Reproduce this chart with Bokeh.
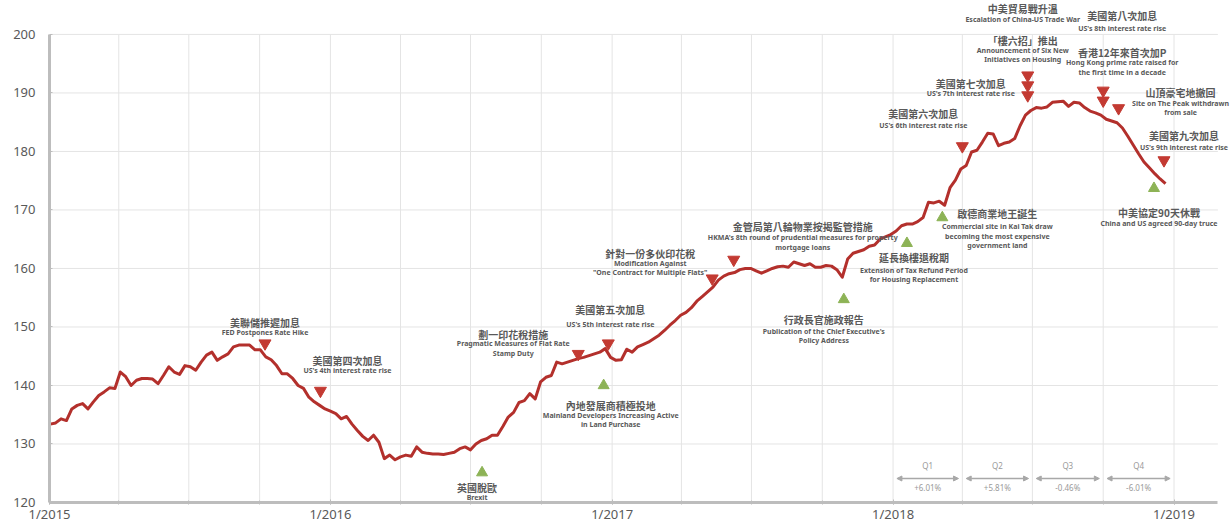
import pandas as pd
from bokeh.plotting import figure
from bokeh.models import ColumnDataSource, FixedTicker, DatetimeTickFormatter, Range1d, Arrow, NormalHead
from bokeh.core.properties import value
from bokeh.embed import file_html
from bokeh.resources import INLINE

# ---------------- data ----------------
week_start = "2015-01-02"
ccl = [
    133.4, 133.6, 134.3, 134.0, 136.0, 136.6, 136.9, 136.0, 137.2, 138.3,
    138.9, 139.6, 139.5, 142.3, 141.5, 140.0, 140.9, 141.2, 141.2, 141.1,
    140.3, 141.7, 143.2, 142.3, 141.9, 143.4, 143.2, 142.6, 144.0, 145.2,
    145.7, 144.3, 144.9, 145.4, 146.6, 146.9, 146.9, 146.9, 146.1, 146.1,
    144.9, 144.4, 143.4, 142.0, 142.0, 141.2, 140.0, 139.5, 138.0, 137.2,
    136.6, 136.0, 135.6, 135.2, 134.3, 134.7, 133.4, 132.3, 131.3, 130.6,
    131.5, 130.3, 127.5, 128.1, 127.3, 127.8, 128.1, 127.9, 129.5, 128.6,
    128.4, 128.3, 128.3, 128.2, 128.4, 128.6, 129.2, 129.5, 129.0, 130.0,
    130.6, 130.9, 131.5, 131.5, 133.0, 134.6, 135.4, 137.1, 137.4, 138.6,
    137.7, 140.6, 141.4, 141.7, 144.0, 143.7, 144.0, 144.3, 144.6, 144.8,
    145.1, 145.4, 145.7, 146.3, 144.8, 144.3, 144.4, 146.2, 145.7, 146.6,
    147.0, 147.4, 148.0, 148.6, 149.4, 150.3, 151.1, 152.0, 152.5, 153.3,
    154.4, 155.2, 156.0, 156.8, 158.0, 158.7, 159.1, 159.3, 159.8, 160.0,
    160.0, 159.6, 159.2, 159.6, 160.0, 160.3, 160.4, 160.2, 161.1, 160.8,
    160.5, 160.8, 160.2, 160.2, 160.5, 160.4, 159.8, 158.5, 161.6, 162.6,
    162.9, 163.2, 163.8, 164.0, 165.0, 165.4, 165.8, 166.4, 167.3, 167.6,
    167.6, 168.0, 168.7, 171.3, 171.2, 171.5, 170.8, 173.8, 175.1, 177.0,
    177.6, 179.9, 180.2, 181.6, 183.1, 183.0, 181.0, 181.4, 181.6, 182.2,
    184.4, 186.2, 187.0, 187.5, 187.4, 187.6, 188.4, 188.5, 188.6, 187.7,
    188.4, 188.3, 187.5, 186.9, 186.6, 186.2, 185.5, 185.2, 184.9, 184.0,
    182.6, 181.1, 179.6, 178.2, 177.2, 176.2, 175.3, 174.5,
]

ev_date = ["2015-10-08", "2015-12-19", "2016-07-16", "2016-11-18", "2016-12-27",
           "2016-12-21", "2017-05-11", "2017-06-08", "2017-10-29", "2018-01-19",
           "2018-03-06", "2018-04-01", "2018-06-25", "2018-06-25", "2018-06-25",
           "2018-10-01", "2018-10-01", "2018-10-21", "2018-12-19", "2018-12-06"]
ev_level = [147.2, 139.1, 125.1, 145.4, 147.2,
            140.0, 158.3, 161.5, 154.7, 164.3,
            168.7, 180.9, 189.6, 191.3, 193.0,
            190.4, 188.7, 187.4, 178.5, 173.7]
ev_kind = ["neg", "neg", "pos", "neg", "neg",
           "pos", "neg", "neg", "pos", "pos",
           "pos", "neg", "neg", "neg", "neg",
           "neg", "neg", "neg", "neg", "pos"]
ev_cn = ["美聯儲推遲加息", "美國第四次加息", "英國脫歐", "劃一印花稅措施", "美國第五次加息",
         "內地發展商積極投地", "針對一份多伙印花稅", "金管局第八輪物業按揭監管措施", "行政長官施政報告", "延長換樓退稅期",
         "啟德商業地王誕生", "美國第六次加息", "美國第七次加息", "「樓六招」推出", "中美貿易戰升溫",
         "美國第八次加息", "香港12年來首次加P", "山頂豪宅地撤回", "美國第九次加息", "中美協定90天休戰"]
ev_en = [["FED Postpones Rate Hike"],
         ["US's 4th interest rate rise"],
         ["Brexit"],
         ["Pragmatic Measures of Flat Rate", "Stamp Duty"],
         ["US's 5th interest rate rise"],
         ["Mainland Developers Increasing Active", "in Land Purchase"],
         ["Modification Against", "\"One Contract for Multiple Flats\""],
         ["HKMA's 8th round of prudential measures for property", "mortgage loans"],
         ["Publication of the Chief Executive's", "Policy Address"],
         ["Extension of Tax Refund Period", "for Housing Replacement"],
         ["Commercial site in Kai Tak draw", "becoming the most expensive", "government land"],
         ["US's 6th interest rate rise"],
         ["US's 7th interest rate rise"],
         ["Announcement of Six New", "Initiatives on Housing"],
         ["Escalation of China-US Trade War"],
         ["US's 8th interest rate rise"],
         ["Hong Kong prime rate raised for", "the first time in a decade"],
         ["Site on The Peak withdrawn", "from sale"],
         ["US's 9th interest rate rise"],
         ["China and US agreed 90-day truce"]]

x_tick_labels = ["1/2015", "1/2016", "1/2017", "1/2018", "1/2019"]
y_ticks = [120, 130, 140, 150, 160, 170, 180, 190, 200]

quarters = ["Q1", "Q2", "Q3", "Q4"]
quarter_change = ["+6.01%", "+5.81%", "-0.46%", "-6.01%"]

# ---------------- layout (pixel offsets of the labels) ----------------
lab_dx = [0, 27, -5, -65, 2, 7, -62, 69, -20, 7, 55, -39, -57, -5, -5, 19, 19, 62, 20, 5]
lab_cn_dy = [-21, -30, 15, -19, -34, 20, -25, -33, 20, 14, -4, -33, -12, -45, -67, -75, -48, -16, -25, 24]
lab_en_dy = [-11, -20, 25, -10, -19, 30, -15, -22, 32, 27, 9, -21, -2, -35, -56, -62, -38, -5, -13, 35]
en_gap = 9.5

GRAY = "#595959"
RED = "#b3302c"
TRI_RED = "#c33a32"
TRI_GREEN = "#8db356"


def ms(d):
    return pd.Timestamp(d).value // 10**6


dates = pd.date_range(week_start, periods=len(ccl), freq="7D")

x_start = pd.Timestamp("2015-01-01")
x_axis_end = pd.Timestamp("2019-02-27")
x_frame_end = pd.Timestamp("2019-03-18")

p = figure(width=1232, height=525, x_axis_type="datetime",
           x_range=Range1d(ms(x_start), ms(x_frame_end)),
           y_range=Range1d(120, 205.8),
           output_backend="svg", toolbar_location=None,
           min_border_left=49, min_border_right=0, min_border_top=0, min_border_bottom=23)
p.outline_line_color = None
p.background_fill_color = "white"
p.border_fill_color = "white"
p.xgrid.visible = False
p.ygrid.visible = False

# gridlines drawn manually so they stop at the axis bounds
year_ticks = [ms(f"{y}-01-01") for y in range(2015, 2020)]
quarter_ticks = [ms(f"{y}-{m:02d}-01") for y in range(2015, 2019) for m in (1, 4, 7, 10)] + [ms("2019-01-01")]
vq = quarter_ticks[1:]
p.segment(x0=vq, y0=[y_ticks[0]] * len(vq), x1=vq, y1=[y_ticks[-1]] * len(vq),
          line_color="#e4e4e4", line_width=1)
hy = y_ticks[1:]
p.segment(x0=[ms(x_start)] * len(hy), y0=hy, x1=[ms(x_axis_end)] * len(hy), y1=hy,
          line_color="#e4e4e4", line_width=1)

# axes
p.yaxis.bounds = (y_ticks[0], y_ticks[-1])
p.yaxis.ticker = FixedTicker(ticks=y_ticks)
p.yaxis.axis_line_color = "#bdbdbd"
p.yaxis.axis_line_width = 3
p.yaxis.major_tick_in = 3
p.yaxis.major_tick_out = 0
p.yaxis.major_tick_line_color = "#bdbdbd"
p.yaxis.minor_tick_line_color = None
p.yaxis.major_label_standoff = 14
p.yaxis.major_label_text_font = "Noto Sans"
p.yaxis.major_label_text_font_size = "13px"
p.yaxis.major_label_text_color = GRAY

p.xaxis.bounds = (ms(x_start), ms(x_axis_end))
p.xaxis.ticker = FixedTicker(ticks=year_ticks, minor_ticks=quarter_ticks)
fmt = "1/%Y"
p.xaxis.formatter = DatetimeTickFormatter(years=fmt, months=fmt, days=fmt, hours=fmt,
                                          minutes=fmt, seconds=fmt, milliseconds=fmt,
                                          minsec=fmt, hourmin=fmt)
p.xaxis.major_label_overrides = {t: lab for t, lab in zip(year_ticks, x_tick_labels)}
p.xaxis.axis_line_color = "#bdbdbd"
p.xaxis.axis_line_width = 3
p.xaxis.major_tick_in = 3
p.xaxis.major_tick_out = 2
p.xaxis.minor_tick_in = 2
p.xaxis.minor_tick_out = 2
p.xaxis.major_tick_line_color = "#bdbdbd"
p.xaxis.minor_tick_line_color = "#bdbdbd"
p.xaxis.major_label_standoff = 0
p.xaxis.major_label_text_font = "Noto Sans"
p.xaxis.major_label_text_font_size = "13px"
p.xaxis.major_label_text_color = GRAY

# the index line
p.line(dates, ccl, line_color=RED, line_width=3, line_join="round")

# event markers
neg_x = [pd.Timestamp(d) for d, k in zip(ev_date, ev_kind) if k == "neg"]
neg_y = [v for v, k in zip(ev_level, ev_kind) if k == "neg"]
pos_x = [pd.Timestamp(d) for d, k in zip(ev_date, ev_kind) if k == "pos"]
pos_y = [v for v, k in zip(ev_level, ev_kind) if k == "pos"]
p.scatter(neg_x, neg_y, marker="inverted_triangle", size=12, fill_color=TRI_RED, line_color=TRI_RED)
p.scatter(pos_x, pos_y, marker="triangle", size=11, fill_color=TRI_GREEN, line_color=TRI_GREEN)

# event labels
cn_src = ColumnDataSource(dict(x=[pd.Timestamp(d) for d in ev_date], y=ev_level, text=ev_cn,
                               xo=lab_dx, yo=lab_cn_dy))
p.text(x="x", y="y", text="text", x_offset="xo", y_offset="yo", source=cn_src,
       text_font=value("Noto Sans CJK TC"), text_font_size="10px", text_font_style="bold",
       text_color=GRAY, text_align="center", text_baseline="middle")

ex, ey, et, exo, eyo = [], [], [], [], []
for d, lv, lines, dx, dy in zip(ev_date, ev_level, ev_en, lab_dx, lab_en_dy):
    for j, line in enumerate(lines):
        ex.append(pd.Timestamp(d)); ey.append(lv); et.append(line)
        exo.append(dx); eyo.append(dy + j * en_gap)
en_src = ColumnDataSource(dict(x=ex, y=ey, text=et, xo=exo, yo=eyo))
p.text(x="x", y="y", text="text", x_offset="xo", y_offset="yo", source=en_src,
       text_font=value("Noto Sans"), text_font_size="7px", text_font_style="bold",
       text_color=GRAY, text_align="center", text_baseline="middle")

# 2018 quarterly changes
q_starts = [pd.Timestamp(f"2018-{m:02d}-01") for m in (1, 4, 7, 10)]
q_ends = [pd.Timestamp("2018-04-01"), pd.Timestamp("2018-07-01"), pd.Timestamp("2018-10-01"), pd.Timestamp("2019-01-01")]
inset = pd.Timedelta(days=5)
arrow_level, q_level, pct_level = 124.1, 126.4, 122.5
for s, e in zip(q_starts, q_ends):
    p.add_layout(Arrow(x_start=ms(s + inset), y_start=arrow_level, x_end=ms(e - inset), y_end=arrow_level,
                       line_color="#a8a8a8", line_width=1.5,
                       start=NormalHead(size=5, fill_color="#a8a8a8", line_color="#a8a8a8"),
                       end=NormalHead(size=5, fill_color="#a8a8a8", line_color="#a8a8a8")))
q_mid = [s + (e - s) / 2 for s, e in zip(q_starts, q_ends)]
p.text(x=q_mid, y=[q_level] * 4, text=quarters, text_font=value("Noto Sans"), text_font_size="8px",
       text_color="#9a9a9a", text_align="center", text_baseline="middle")
p.text(x=q_mid, y=[pct_level] * 4, text=quarter_change, text_font=value("Noto Sans"), text_font_size="8px",
       text_color="#9a9a9a", text_align="center", text_baseline="middle")

open("out.html", "w").write(file_html(p, INLINE))
